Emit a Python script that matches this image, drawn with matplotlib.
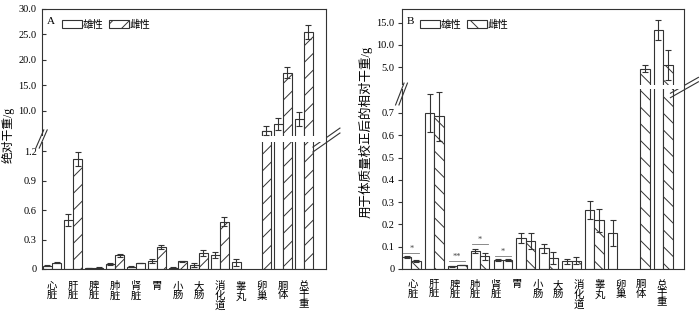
import numpy as np
import matplotlib
matplotlib.use("Agg")
import matplotlib.pyplot as plt
from matplotlib.patches import Patch

plt.rcParams['font.family'] = ['Liberation Serif', 'Noto Sans CJK SC']
plt.rcParams['hatch.linewidth'] = 0.7
plt.rcParams['axes.unicode_minus'] = False

# ---- data ----
labels = ["心脏", "肝脏", "脾脏", "肺脏", "肾脏", "胃", "小肠", "大肠",
          "消化道", "睾丸", "卵巢", "胴体", "总干重"]

nan = np.nan
# A: absolute dry weight / g
a_male = [0.035, 0.50, 0.008, 0.051, 0.025, 0.081, 0.013, 0.042, 0.143, 0.068, nan, 7.4, 8.4]
a_male_err = [0.004, 0.061, 0.002, 0.007, 0.003, 0.024, 0.004, 0.022, 0.034, 0.034, nan, 1.15, 1.4]
a_female = [0.066, 1.119, 0.015, 0.139, 0.062, 0.227, 0.080, 0.16, 0.48, nan, 6.1, 17.5, 25.55]
a_female_err = [0.004, 0.073, 0.003, 0.014, 0.004, 0.022, 0.006, 0.03, 0.046, nan, 0.9, 1.1, 1.35]

# B: relative dry weight corrected by body mass / g (12 bar groups in the original)
b_male = [0.055, 0.70, 0.013, 0.081, 0.041, 0.138, 0.092, 0.035, 0.265, 0.163, nan, 13.4]
b_male_err = [0.004, 0.085, 0.002, 0.008, 0.003, 0.022, 0.022, 0.012, 0.042, 0.058, nan, 2.3]
b_female = [0.037, 0.685, 0.018, 0.057, 0.041, 0.127, 0.050, 0.038, 0.218, nan, 4.7, 5.5]
b_female_err = [0.004, 0.11, 0.002, 0.015, 0.003, 0.036, 0.028, 0.016, 0.05, nan, 0.8, 3.4]

# significance marks in B: (group, line height, text)
b_sig = [(0, 0.073, "*"), (2, 0.036, "**"), (3, 0.111, "*"), (4, 0.060, "*")]

a_ticks_lo = [0, 0.3, 0.6, 0.9, 1.2]
a_ticks_hi = [10, 15, 20, 25, 30]
b_ticks_lo = [0, 0.1, 0.2, 0.3, 0.4, 0.5, 0.6, 0.7]
b_ticks_hi = [5, 10, 15]

EC = '#333333'


def broken(lo_top, lo_k, up_bot, up_k, gap):
    # piecewise linear y scale, squeezing (lo_top, up_bot) into a small gap
    t_lo = lo_top * lo_k
    t_up = t_lo + gap

    def fwd(v):
        v = np.asarray(v, dtype=float)
        mid = t_lo + (v - lo_top) / (up_bot - lo_top) * gap
        return np.where(v <= lo_top, v * lo_k,
                        np.where(v >= up_bot, t_up + (v - up_bot) * up_k, mid))

    def inv(t):
        t = np.asarray(t, dtype=float)
        mid = lo_top + (t - t_lo) / gap * (up_bot - lo_top)
        return np.where(t <= t_lo, t / lo_k,
                        np.where(t >= t_up, up_bot + (t - t_up) / up_k, mid))
    return fwd, inv


def fmt_lo(v):
    return "0" if v == 0 else ("%g" % v)


def draw_panel(ax, male, male_err, female, female_err, width, hatch, lo_top, up_bot):
    x = np.arange(len(male))
    m = np.array(male)
    f = np.array(female)
    ax.bar(x - width / 2, m, width, color='white', edgecolor=EC, linewidth=0.8)
    ax.bar(x + width / 2, f, width, color='white', edgecolor=EC, linewidth=0.8, hatch=hatch)
    kw = dict(fmt='none', ecolor=EC, elinewidth=0.8, capsize=2.5, capthick=0.8, zorder=3)
    ax.errorbar(x - width / 2, m, yerr=male_err, **kw)
    ax.errorbar(x + width / 2, f, yerr=female_err, **kw)
    # white band = the axis break
    ax.axhspan(lo_top, up_bot, color='white', zorder=2.2, lw=0)
    # break the left spine too
    ax.axhspan(lo_top, up_bot, xmin=-0.02, xmax=0.02, color='white', zorder=3, lw=0, clip_on=False)
    return x


def spine_break(ax, yc, dx=0.014, dy=0.035):
    for off in (-0.006, 0.006):
        ax.plot([off - dx, off + dx], [yc - dy, yc + dy], color=EC, lw=0.8,
                transform=ax.transAxes, clip_on=False, zorder=5)


fig = plt.figure(figsize=(7, 3.12), dpi=100)

# ---------------- panel A ----------------
axA = fig.add_axes([41.5 / 700, 43 / 312, 284.5 / 700, 260 / 312])
fwd, inv = broken(1.29, 98.33, 5.0, 5.1, 5.7)
axA.set_yscale('function', functions=(fwd, inv))
xa = draw_panel(axA, a_male, a_male_err, a_female, a_female_err, 0.43, '//', 1.29, 5.0)
# the upper piece of the ovary bar is left unhatched in the original
axA.bar(xa[10] + 0.43 / 2, a_female[10] - 5.0, 0.43, bottom=5.0, color='white',
        edgecolor=EC, linewidth=0.8, zorder=1.5)
axA.set_xlim(-0.5, 13.05)
axA.set_ylim(0, 30)
axA.set_yticks(a_ticks_lo + a_ticks_hi,
               [fmt_lo(v) for v in a_ticks_lo] + ["%.1f" % v for v in a_ticks_hi])
axA.set_xticks(xa, ["\n".join(s) for s in labels], linespacing=0.95)
axA.tick_params(axis='x', length=0, pad=9, labelsize=7.5)
axA.tick_params(axis='y', direction='in', length=3, width=0.8, pad=3.5, labelsize=7.5, color=EC)
axA.set_ylabel("绝对干重/g", fontsize=8.5)
axA.yaxis.set_label_coords(-0.093, 0.515)
axA.text(0.033, 0.95, "A", transform=axA.transAxes, fontsize=8, ha='center', va='center')
axA.legend(handles=[Patch(fc='white', ec=EC, lw=0.8, label='雄性'),
                    Patch(fc='white', ec=EC, lw=0.8, hatch='//', label='雌性')],
           loc='upper left', bbox_to_anchor=(0.072, 0.96), ncol=2, frameon=False,
           fontsize=7.5, handlelength=1.9, handleheight=0.75, handletextpad=0.1,
           columnspacing=0.5, borderpad=0, borderaxespad=0)
spine_break(axA, 0.5)
for ln in ((0.469, 0.542), (0.450, 0.523)):
    axA.plot([0.954, 1.049], ln, color=EC, lw=0.8, transform=axA.transAxes, clip_on=False)

# ---------------- panel B ----------------
axB = fig.add_axes([401.5 / 700, 43 / 312, 282.5 / 700, 260 / 312])
fwd, inv = broken(0.806, 223.0, 1.03, 4.46, 4.3)
axB.set_yscale('function', functions=(fwd, inv))
xb = draw_panel(axB, b_male, b_male_err, b_female, b_female_err, 0.41, '\\\\', 0.806, 1.03)
axB.set_xlim(-0.43, 11.91)
axB.set_ylim(0, 18.07)
axB.set_yticks(b_ticks_lo + b_ticks_hi,
               [fmt_lo(v) for v in b_ticks_lo] + ["%.1f" % v for v in b_ticks_hi])
# labels in the original are spaced a bit tighter than the bars
label_pos = 0.074 + 0.906 * np.arange(len(labels))
axB.set_xticks(label_pos, ["\n".join(s) for s in labels], linespacing=0.95)
axB.tick_params(axis='x', length=0, pad=8, labelsize=7.5)
axB.tick_params(axis='y', direction='out', length=3, width=0.8, pad=2, labelsize=7.5, color=EC)
axB.set_ylabel("用于体质量校正后的相对干重/g", fontsize=9)
axB.yaxis.set_label_coords(-0.101, 0.527)
axB.text(0.03, 0.95, "B", transform=axB.transAxes, fontsize=8, ha='center', va='center')
axB.legend(handles=[Patch(fc='white', ec=EC, lw=0.8, label='雄性'),
                    Patch(fc='white', ec=EC, lw=0.8, hatch='\\\\', label='雌性')],
           loc='upper left', bbox_to_anchor=(0.066, 0.96), ncol=2, frameon=False,
           fontsize=7.5, handlelength=1.9, handleheight=0.75, handletextpad=0.1,
           columnspacing=0.5, borderpad=0, borderaxespad=0)
for g, h, s in b_sig:
    axB.plot([g - 0.35, g + 0.35], [h, h], color='#777777', lw=0.6)
    axB.text(g, h, s, ha='center', va='bottom', fontsize=6, color='#444444')
spine_break(axB, 0.673, dx=0.015, dy=0.042)
for ln in ((0.676, 0.737), (0.659, 0.720)):
    axB.plot([0.952, 1.051], ln, color=EC, lw=0.8, transform=axB.transAxes, clip_on=False)

for ax in (axA, axB):
    for sp in ax.spines.values():
        sp.set_color(EC)
        sp.set_linewidth(0.8)

fig.savefig("out.png", dpi=100)
